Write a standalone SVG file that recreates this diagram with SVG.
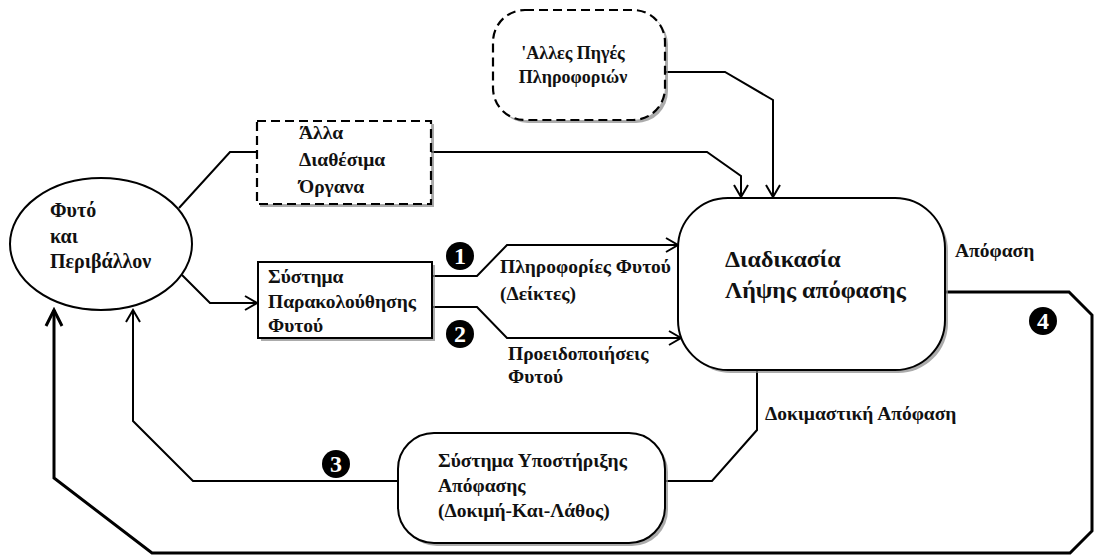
<svg xmlns="http://www.w3.org/2000/svg" width="1094" height="558" viewBox="0 0 1094 558">
<defs>
<marker id="arr" markerUnits="userSpaceOnUse" markerWidth="18" markerHeight="18" refX="15" refY="9" orient="auto">
<path d="M3,2 L15,9 L3,16" fill="none" stroke="#000" stroke-width="2"/>
</marker>
<marker id="arrT" markerUnits="userSpaceOnUse" markerWidth="22" markerHeight="22" refX="19" refY="11" orient="auto">
<path d="M3,3 L19,11 L3,19" fill="none" stroke="#000" stroke-width="3"/>
</marker>
</defs>
<style>
text{font-family:"Liberation Serif","Times New Roman",serif;font-weight:bold;fill:#111;}
.t15{font-size:19.5px;}
.t18{font-size:18px;}
.t20{font-size:20px;}
.t19{font-size:24px;}
.box{fill:#fff;stroke:#000;stroke-width:2;}
.dash{fill:#fff;stroke:#000;stroke-width:2.2;stroke-dasharray:9,5;}
.shadow{fill:#888;stroke:none;opacity:0.7;}
.ln{fill:none;stroke:#000;stroke-width:2;}
.thick{fill:none;stroke:#000;stroke-width:3;}
.num circle{fill:#000;}
.num text{fill:#fff;font-size:24px;text-anchor:middle;}
</style>
<rect width="1094" height="558" fill="#fff"/>
<g id="connectors">
<path class="ln" d="M431,152 H707 L741,176 V197" marker-end="url(#arr)"/>
<path class="ln" d="M665,72 H725 L773,100 V197" marker-end="url(#arr)"/>
<path class="ln" d="M179,208 L230,152 H257"/>
<path class="ln" d="M182,275 L210,303 H257" marker-end="url(#arr)"/>
<path class="ln" d="M432,276 H477 L507,245 H678" marker-end="url(#arr)"/>
<path class="ln" d="M432,307 H477 L507,338 H681" marker-end="url(#arr)"/>
<path class="thick" d="M945,292 H1069 L1092,315 V531 L1070,553 H152 L54,478 V310" marker-end="url(#arrT)"/>
<path class="ln" d="M757,370 V430 L712,481 H665"/>
<path class="ln" d="M398,481 H193 L133,421 V310" marker-end="url(#arr)"/>
</g>
<g id="plant">
<ellipse cx="101" cy="244" rx="91" ry="66" class="box"/>
<text class="t20" x="50" y="217">Φυτό</text>
<text class="t20" x="50" y="243">και</text>
<text class="t20" x="50" y="268">Περιβάλλον</text>
</g>
<g id="other-tools">
<rect x="260" y="124" width="174" height="83" class="shadow"/>
<rect x="257" y="121" width="174" height="83" class="dash"/>
<text class="t15" x="299" y="139">Άλλα</text>
<text class="t15" x="299" y="166">Διαθέσιμα</text>
<text class="t15" x="299" y="193">Όργανα</text>
</g>
<g id="other-sources">
<rect x="496" y="13" width="172" height="110" rx="32" class="shadow"/>
<rect x="493" y="10" width="172" height="110" rx="32" class="dash"/>
<text class="t18" x="573" y="59" text-anchor="middle">'Αλλες Πηγές</text>
<text class="t18" x="573" y="83" text-anchor="middle">Πληροφοριών</text>
</g>
<g id="monitoring">
<rect x="261" y="265" width="174" height="76" class="shadow"/>
<rect x="258" y="262" width="174" height="76" class="box"/>
<text class="t15" x="268" y="283">Σύστημα</text>
<text class="t15" x="268" y="308">Παρακολούθησης</text>
<text class="t15" x="268" y="332">Φυτού</text>
</g>
<g id="decision">
<rect x="681" y="201" width="267" height="172" rx="50" class="shadow"/>
<rect x="678" y="198" width="267" height="172" rx="50" class="box"/>
<text class="t19" x="725" y="267">Διαδικασία</text>
<text class="t19" x="725" y="298">Λήψης απόφασης</text>
</g>
<g id="support">
<rect x="401" y="436" width="267" height="110" rx="36" class="shadow"/>
<rect x="398" y="433" width="267" height="110" rx="36" class="box"/>
<text class="t15" x="438" y="467">Σύστημα Υποστήριξης</text>
<text class="t15" x="438" y="492">Απόφασης</text>
<text class="t15" x="438" y="517">(Δοκιμή-Και-Λάθος)</text>
</g>
<g id="labels">
<text class="t15" x="500" y="273">Πληροφορίες Φυτού</text>
<text class="t15" x="500" y="300">(Δείκτες)</text>
<text class="t15" x="508" y="360">Προειδοποιήσεις</text>
<text class="t15" x="508" y="383">Φυτού</text>
<text class="t15" x="955" y="257">Απόφαση</text>
<text class="t15" x="765" y="420">Δοκιμαστική Απόφαση</text>
</g>
<g id="num1" class="num"><circle cx="460" cy="256" r="14"/><text x="460" y="264">1</text></g>
<g id="num2" class="num"><circle cx="460" cy="334" r="14"/><text x="460" y="342">2</text></g>
<g id="num3" class="num"><circle cx="336" cy="464" r="14"/><text x="336" y="472">3</text></g>
<g id="num4" class="num"><circle cx="1043" cy="321" r="14"/><text x="1043" y="329">4</text></g>
</svg>
